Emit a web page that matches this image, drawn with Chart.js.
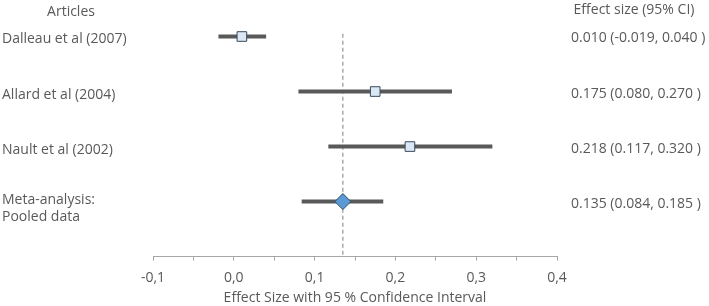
<!DOCTYPE html>
<html>
<head>
<meta charset="utf-8">
<script src="https://cdn.jsdelivr.net/npm/chart.js@4/dist/chart.umd.min.js"></script>
<style>
html,body{margin:0;padding:0;background:#fff;}
#wrap{width:709px;height:306px;position:relative;}
</style>
</head>
<body>
<div id="wrap"><canvas id="c" width="709" height="306"></canvas></div>
<script>
const studies = ["Dalleau et al (2007)", "Allard et al (2004)", "Nault et al (2002)", "Meta-analysis:\nPooled data"];
const effects = [0.010, 0.175, 0.218, 0.135];
const lowerCI = [-0.019, 0.080, 0.117, 0.084];
const upperCI = [0.040, 0.270, 0.320, 0.185];
const ciLabels = ["0.010 (-0.019, 0.040 )", "0.175 (0.080, 0.270 )", "0.218 (0.117, 0.320 )", "0.135 (0.084, 0.185 )"];
const xTickValues = [-0.1, 0.0, 0.1, 0.2, 0.3, 0.4];
const pooledIndex = 3;

const FONT = "'Open Sans', sans-serif";
const TXT = "#595959";
const FS = 14;

const datasets = [];
// CI lines
studies.forEach((s, i) => {
  datasets.push({
    type: 'line',
    data: [{x: lowerCI[i], y: i}, {x: upperCI[i], y: i}],
    borderColor: '#595959',
    borderWidth: 4,
    pointRadius: 0,
    order: 3
  });
});
// reference dashed line at pooled estimate
datasets.push({
  type: 'line',
  data: [{x: effects[pooledIndex], y: -0.05}, {x: effects[pooledIndex], y: 4}],
  borderColor: '#7f7f7f',
  borderWidth: 1,
  borderDash: [4, 3],
  pointRadius: 0,
  order: 4
});
// study markers
datasets.push({
  type: 'scatter',
  data: effects.slice(0, pooledIndex).map((e, i) => ({x: e, y: i})),
  pointStyle: 'rect',
  pointRadius: 6.8,
  backgroundColor: '#dbe7f4',
  borderColor: '#3b4a5c',
  borderWidth: 1,
  order: 1
});
// pooled marker
datasets.push({
  type: 'scatter',
  data: [{x: effects[pooledIndex], y: pooledIndex}],
  pointStyle: 'rectRot',
  pointRadius: 8,
  backgroundColor: '#5b9bd5',
  borderColor: '#2e4a66',
  borderWidth: 1,
  order: 0
});

const textPlugin = {
  id: 'texts',
  afterDraw(chart) {
    const ctx = chart.ctx;
    const y = chart.scales.y;
    ctx.save();
    ctx.fillStyle = TXT;
    ctx.font = FS + "px " + FONT;
    ctx.textBaseline = 'middle';
    ctx.textAlign = 'center';
    ctx.fillText("Articles", 71, 12);
    ctx.fillText("Effect size (95% CI)", 634, 10);
    ctx.textAlign = 'left';
    studies.forEach((s, i) => {
      const py = y.getPixelForValue(i);
      const lines = s.split("\n");
      if (lines.length === 1) {
        ctx.fillText(lines[0], 2, py + 3);
      } else {
        ctx.fillText(lines[0], 2, py - 2);
        ctx.fillText(lines[1], 2, py + 15);
      }
      ctx.fillText(ciLabels[i], 571, py + 2);
    });
    ctx.restore();
  }
};

new Chart(document.getElementById('c'), {
  data: {datasets},
  options: {
    responsive: false,
    animation: false,
    layout: {padding: {left: 153, right: 152, top: 7, bottom: 0}},
    plugins: {legend: {display: false}, tooltip: {enabled: false}},
    scales: {
      x: {
        type: 'linear',
        min: -0.1,
        max: 0.4,
        afterBuildTicks(axis) {
          const t = [];
          for (let i = 0; i < xTickValues.length; i++) {
            t.push({value: xTickValues[i]});
            if (i < xTickValues.length - 1) t.push({value: (xTickValues[i] + xTickValues[i + 1]) / 2});
          }
          axis.ticks = t;
        },
        ticks: {
          color: TXT,
          font: {family: FONT, size: FS},
          padding: 8.6,
          maxRotation: 0,
          autoSkip: false,
          callback: (v) => {
            const r = Math.round(v * 100) / 100;
            if (Math.abs(Math.round(r * 10) - r * 10) > 1e-6) return '';
            return r.toFixed(1).replace('.', ',');
          }
        },
        grid: {drawOnChartArea: false, tickLength: 4, color: '#a6a6a6', tickColor: '#a6a6a6'},
        border: {display: true, color: '#a6a6a6', width: 1},
        title: {display: true, text: 'Effect Size with 95 % Confidence Interval', color: TXT, font: {family: FONT, size: FS}, padding: {top: -5.4, bottom: 0}}
      },
      y: {
        type: 'linear',
        min: -0.5,
        max: 4,
        reverse: true,
        display: false
      }
    }
  },
  plugins: [textPlugin]
});
</script>
</body>
</html>
